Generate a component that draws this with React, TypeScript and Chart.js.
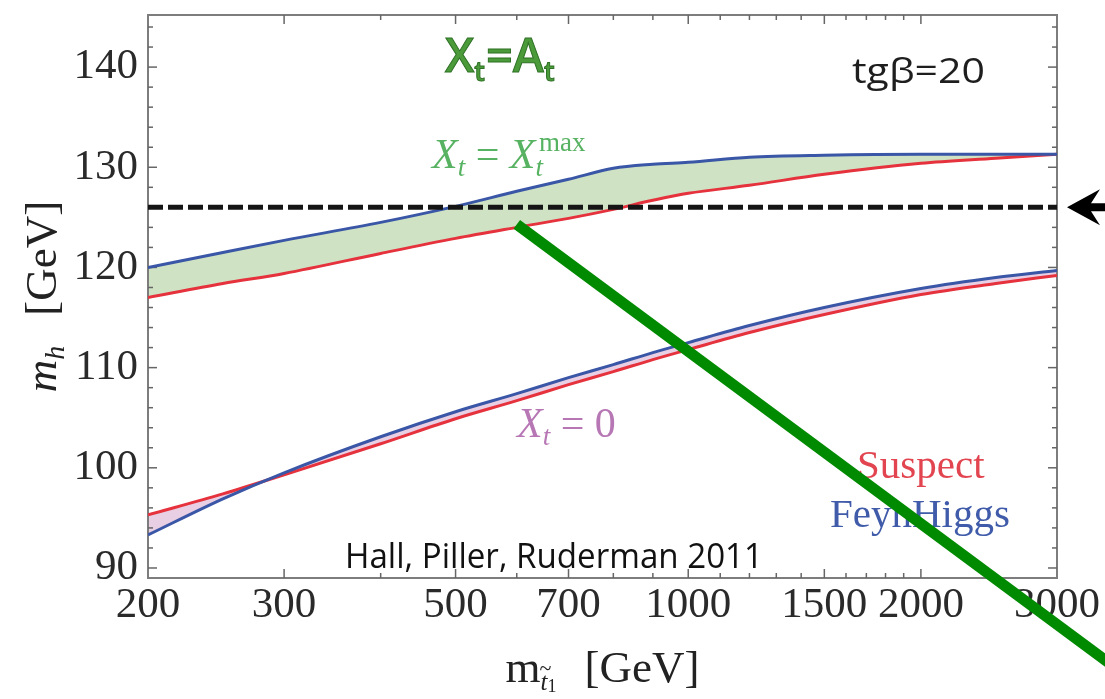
import React, { useEffect, useRef } from "react";
import { Chart, registerables } from "chart.js";

Chart.register(...registerables);

// Lightest stop mass (GeV) at which the Higgs-mass curves are sampled
const stopMass = [200, 250, 300, 400, 500, 600, 700, 800, 900, 1000, 1200, 1500, 2000, 2500, 3000];

// Maximal stop mixing, X_t = X_t^max
const feynHiggsMax = [120.0, 121.5, 122.7, 124.5, 126.1, 127.6, 128.8, 129.9, 130.3, 130.5, 131.0, 131.2, 131.3, 131.3, 131.3];
const suspectMax = [117.0, 118.4, 119.4, 121.4, 122.9, 124.0, 124.9, 125.8, 126.7, 127.4, 128.2, 129.3, 130.4, 130.9, 131.3];

// No stop mixing, X_t = 0
const feynHiggsZero = [93.3, 96.9, 99.5, 103.1, 105.6, 107.4, 109.0, 110.3, 111.5, 112.5, 114.2, 116.0, 117.9, 119.0, 119.7];
const suspectZero = [95.3, 97.4, 99.3, 102.4, 104.9, 106.7, 108.3, 109.6, 110.8, 111.8, 113.5, 115.3, 117.3, 118.4, 119.2];

// Observed Higgs mass (GeV)
const higgsMass = 126;
const higgsSpan = [200, 3000];

// Pointer stroke running from the maximal-mixing band off the bottom-right corner
const pointerStop = [600, 3620];
const pointerHiggs = [124.3, 79.7];

// Axis ticks
const xTickLabels = [200, 300, 500, 700, 1000, 1500, 2000, 3000];
const xMajorMarks = [300, 500, 700, 1000, 1500, 2000];
const xMinorMarks = [400, 600, 800, 900, 1100, 1200, 1300, 1400, 1600, 1700, 1800, 1900];
const yTickLabels = [90, 100, 110, 120, 130, 140];
const yMinorMarks = [92, 94, 96, 98, 102, 104, 106, 108, 112, 114, 116, 118, 122, 124, 126, 128, 132, 134, 136, 138, 142, 144];

const SERIF = '"Liberation Serif", "Times New Roman", serif';
const SANS = '"Open Sans", "DejaVu Sans", sans-serif';

const BLUE = "#3a56a6";
const RED = "#e5323d";

type Run = { text: string; font: string; dx?: number; dy?: number };

function runsWidth(ctx: CanvasRenderingContext2D, runs: Run[]) {
  let w = 0;
  for (const r of runs) {
    ctx.font = r.font;
    w += (r.dx || 0) + ctx.measureText(r.text).width;
  }
  return w;
}

function drawRuns(ctx: CanvasRenderingContext2D, x: number, y: number, runs: Run[], stroke = false) {
  let cx = x;
  const starts: number[] = [];
  for (const r of runs) {
    ctx.font = r.font;
    cx += r.dx || 0;
    starts.push(cx);
    ctx.fillText(r.text, cx, y + (r.dy || 0));
    if (stroke) ctx.strokeText(r.text, cx, y + (r.dy || 0));
    cx += ctx.measureText(r.text).width;
  }
  return starts;
}

function fillFit(ctx: CanvasRenderingContext2D, text: string, x: number, y: number, w: number) {
  const m = ctx.measureText(text).width;
  ctx.save();
  ctx.translate(x, y);
  ctx.scale(w / m, 1);
  ctx.fillText(text, 0, 0);
  ctx.restore();
}

const decorations = {
  id: "decorations",
  beforeDatasetsDraw(chart: any) {
    const { ctx, chartArea: a, scales } = chart;
    const xs = scales.x;
    const ys = scales.y;
    ctx.save();

    // frame
    ctx.strokeStyle = "#7d7d7d";
    ctx.lineWidth = 2;
    ctx.strokeRect(a.left, a.top, a.right - a.left, a.bottom - a.top);

    // inward tick marks on all four sides
    ctx.strokeStyle = "#666";
    ctx.lineWidth = 1.5;
    const seg = (x1: number, y1: number, x2: number, y2: number) => {
      ctx.beginPath();
      ctx.moveTo(x1, y1);
      ctx.lineTo(x2, y2);
      ctx.stroke();
    };
    const xMark = (v: number, len: number) => {
      const p = xs.getPixelForValue(v);
      seg(p, a.bottom, p, a.bottom - len);
      seg(p, a.top, p, a.top + len);
    };
    const yMark = (v: number, len: number) => {
      const p = ys.getPixelForValue(v);
      seg(a.left, p, a.left + len, p);
      seg(a.right, p, a.right - len, p);
    };
    xMajorMarks.forEach((v) => xMark(v, 9));
    xMinorMarks.forEach((v) => xMark(v, 5));
    yTickLabels.forEach((v) => yMark(v, 9));
    yMinorMarks.forEach((v) => yMark(v, 5));

    ctx.textAlign = "left";
    ctx.textBaseline = "alphabetic";

    // X_t = A_t
    ctx.fillStyle = "#4b9b3b";
    ctx.strokeStyle = "#2f7226";
    ctx.lineWidth = 1;
    drawRuns(
      ctx,
      445,
      72,
      [
        { text: "X", font: `600 47px ${SANS}` },
        { text: "t", font: `600 27px ${SANS}`, dy: 9 },
        { text: "=", font: `600 47px ${SANS}`, dx: 1 },
        { text: "A", font: `600 47px ${SANS}` },
        { text: "t", font: `600 27px ${SANS}`, dy: 9 },
      ],
      true
    );

    // tan(beta)
    ctx.fillStyle = "#1e1e1e";
    ctx.font = `34px ${SANS}`;
    fillFit(ctx, "tgβ=20", 852, 83, 133);

    // X_t = X_t^max
    ctx.fillStyle = "#57b262";
    drawRuns(ctx, 432, 168, [
      { text: "X", font: `italic 42px ${SERIF}` },
      { text: "t", font: `italic 27px ${SERIF}`, dy: 8 },
      { text: " = ", font: `42px ${SERIF}` },
      { text: "X", font: `italic 42px ${SERIF}` },
      { text: "t", font: `italic 27px ${SERIF}`, dy: 8 },
      { text: "max", font: `27px ${SERIF}`, dx: -4, dy: -17 },
    ]);

    // X_t = 0
    ctx.fillStyle = "#b777b5";
    drawRuns(ctx, 517, 437, [
      { text: "X", font: `italic 42px ${SERIF}` },
      { text: "t", font: `italic 27px ${SERIF}`, dy: 8 },
      { text: " = 0", font: `42px ${SERIF}` },
    ]);

    // program labels
    ctx.font = `41px ${SERIF}`;
    ctx.fillStyle = "#e24550";
    ctx.fillText("Suspect", 857, 478);
    ctx.fillStyle = "#3f5ba9";
    ctx.fillText("FeynHiggs", 830, 527);

    // citation
    ctx.fillStyle = "#111";
    ctx.font = `34px ${SANS}`;
    fillFit(ctx, "Hall, Piller, Ruderman 2011", 345, 568, 418);

    // x-axis title: m_{t~1} [GeV]
    ctx.fillStyle = "#222";
    const xRuns: Run[] = [
      { text: "m", font: `45px ${SERIF}` },
      { text: "t", font: `italic 25px ${SERIF}`, dy: 8 },
      { text: "1", font: `18px ${SERIF}`, dy: 10 },
      { text: "[GeV]", font: `45px ${SERIF}`, dx: 28 },
    ];
    const cxm = (a.left + a.right) / 2;
    const xw = runsWidth(ctx, xRuns);
    const st = drawRuns(ctx, cxm - xw / 2, 682, xRuns);
    ctx.font = `22px ${SERIF}`;
    ctx.fillText("~", st[1] - 1, 675);

    // y-axis title: m_h [GeV]
    ctx.save();
    ctx.translate(56, (a.top + a.bottom) / 2);
    ctx.rotate(-Math.PI / 2);
    const yRuns: Run[] = [
      { text: "m", font: `italic 45px ${SERIF}` },
      { text: "h", font: `italic 28px ${SERIF}`, dy: 8 },
      { text: "[GeV]", font: `45px ${SERIF}`, dx: 30 },
    ];
    const yw = runsWidth(ctx, yRuns);
    drawRuns(ctx, -yw / 2, 0, yRuns);
    ctx.restore();

    ctx.restore();
  },
  afterDraw(chart: any) {
    const { ctx, chartArea: a, scales } = chart;
    const yy = scales.y.getPixelForValue(higgsMass);
    const tip = a.right + 10;
    ctx.save();
    ctx.fillStyle = "#000";
    ctx.beginPath();
    ctx.moveTo(tip, yy);
    ctx.lineTo(tip + 33, yy - 18);
    ctx.lineTo(tip + 24, yy - 4);
    ctx.lineTo(a.right + 60, yy - 4);
    ctx.lineTo(a.right + 60, yy + 4);
    ctx.lineTo(tip + 24, yy + 4);
    ctx.lineTo(tip + 33, yy + 18);
    ctx.closePath();
    ctx.fill();
    ctx.restore();
  },
};

const pts = (xs: number[], ys: number[]) => xs.map((x, i) => ({ x, y: ys[i] }));

const noPadding = (s: any) => {
  s.paddingTop = 0;
  s.paddingBottom = 0;
  s.paddingLeft = 0;
  s.paddingRight = 0;
};

export default function App() {
  const ref = useRef<HTMLCanvasElement>(null);

  useEffect(() => {
    const curve = (label: string, values: number[], color: string, order: number, extra: any = {}) => ({
      label,
      data: pts(stopMass, values),
      borderColor: color,
      borderWidth: 3,
      pointRadius: 0,
      cubicInterpolationMode: "monotone",
      fill: false,
      order,
      ...extra,
    });

    const chart = new Chart(ref.current as HTMLCanvasElement, {
      type: "line",
      data: {
        datasets: [
          {
            label: "pointer",
            data: pts(pointerStop, pointerHiggs),
            borderColor: "#008a00",
            borderWidth: 11,
            borderCapStyle: "butt",
            pointRadius: 0,
            fill: false,
            clip: false,
            order: 0,
          } as any,
          {
            label: "m_h = 126 GeV",
            data: pts(higgsSpan, [higgsMass, higgsMass]),
            borderColor: "#151515",
            borderWidth: 5,
            borderDash: [15, 5],
            pointRadius: 0,
            fill: false,
            order: 1,
          } as any,
          curve("FeynHiggs, X_t = X_t^max", feynHiggsMax, BLUE, 2, {
            fill: { target: 3 },
            backgroundColor: "#cfe3c4",
          }),
          curve("Suspect, X_t = X_t^max", suspectMax, RED, 3),
          curve("FeynHiggs, X_t = 0", feynHiggsZero, BLUE, 4, {
            fill: { target: 5 },
            backgroundColor: "#e9cfe4",
          }),
          curve("Suspect, X_t = 0", suspectZero, RED, 5),
        ],
      },
      options: {
        animation: false,
        responsive: false,
        maintainAspectRatio: false,
        devicePixelRatio: 1,
        layout: { padding: { left: 0, right: 48, top: 15, bottom: 0 } },
        plugins: {
          legend: { display: false },
          tooltip: { enabled: false },
          filler: { drawTime: "beforeDatasetsDraw" },
        } as any,
        scales: {
          x: {
            type: "logarithmic",
            min: 200,
            max: 3000,
            afterBuildTicks: (s: any) => {
              s.ticks = xTickLabels.map((v) => ({ value: v }));
            },
            afterFit: (s: any) => {
              s.height = 121;
              noPadding(s);
            },
            ticks: {
              autoSkip: false,
              maxRotation: 0,
              padding: 2,
              color: "#2a2a2a",
              font: { family: SERIF, size: 43 },
              callback: (v: any) => String(v),
            },
            grid: { display: false, drawTicks: false },
            border: { display: false },
          },
          y: {
            min: 89,
            max: 145.2,
            afterBuildTicks: (s: any) => {
              s.ticks = yTickLabels.map((v) => ({ value: v }));
            },
            afterFit: (s: any) => {
              s.width = 148;
              noPadding(s);
            },
            ticks: {
              padding: 10,
              color: "#2a2a2a",
              font: { family: SERIF, size: 43 },
              callback: (v: any) => String(v),
            },
            grid: { display: false, drawTicks: false },
            border: { display: false },
          },
        },
      } as any,
      plugins: [decorations],
    });

    return () => chart.destroy();
  }, []);

  return (
    <div style={{ position: "absolute", left: 0, top: 0, width: 1105, height: 699, background: "#fff" }}>
      <canvas ref={ref} width={1105} height={699} style={{ display: "block" }} />
    </div>
  );
}
